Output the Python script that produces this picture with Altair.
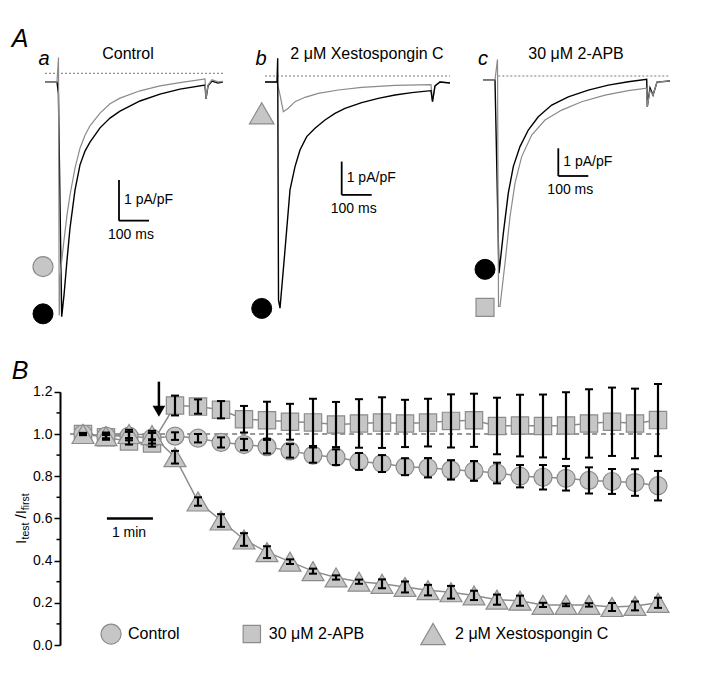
import altair as alt
import pandas as pd

FONT = "Liberation Sans"
VX, VY = 60, 8          # page position of the view origin
W, H = 650, 664

# ---------------- Panel B data (normalised current vs time) ----------------
time_min = [0.0, 0.5, 1.0, 1.5, 2.0, 2.5, 3.0, 3.5, 4.0, 4.5, 5.0, 5.5, 6.0,
            6.5, 7.0, 7.5, 8.0, 8.5, 9.0, 9.5, 10.0, 10.5, 11.0, 11.5, 12.0, 12.5]
series_names = ["Control", "30 μM 2-APB", "2 μM Xestospongin C"]
control_mean = [1.00, 0.99, 0.99, 0.98, 0.99, 0.98, 0.96, 0.95, 0.94, 0.92, 0.90, 0.89, 0.87,
                0.86, 0.845, 0.84, 0.83, 0.825, 0.815, 0.80, 0.795, 0.79, 0.78, 0.775, 0.77, 0.755]
control_sem = [0.005, 0.017, 0.02, 0.025, 0.018, 0.02, 0.024, 0.027, 0.032, 0.032, 0.036, 0.037, 0.04,
               0.04, 0.04, 0.046, 0.046, 0.047, 0.049, 0.053, 0.058, 0.058, 0.062, 0.059, 0.063, 0.07]
apb_mean = [1.00, 0.985, 0.965, 0.955, 1.135, 1.13, 1.115, 1.07, 1.065, 1.058, 1.055, 1.045, 1.05,
            1.054, 1.05, 1.054, 1.062, 1.065, 1.038, 1.04, 1.038, 1.04, 1.05, 1.058, 1.05, 1.066]
apb_sem = [0.005, 0.01, 0.015, 0.015, 0.047, 0.034, 0.041, 0.063, 0.088, 0.085, 0.112, 0.107, 0.115,
           0.12, 0.112, 0.113, 0.126, 0.126, 0.134, 0.146, 0.149, 0.158, 0.162, 0.162, 0.165, 0.171]
xesto_mean = [1.00, 0.99, 1.00, 0.995, 0.89, 0.68, 0.59, 0.50, 0.44, 0.395, 0.35, 0.32, 0.30,
              0.29, 0.275, 0.26, 0.25, 0.235, 0.215, 0.21, 0.19, 0.19, 0.19, 0.18, 0.185, 0.2]
xesto_sem = [0.005, 0.01, 0.02, 0.02, 0.03, 0.02, 0.03, 0.03, 0.028, 0.011, 0.012, 0.01, 0.01,
             0.021, 0.026, 0.025, 0.03, 0.022, 0.024, 0.024, 0.01, 0.006, 0.008, 0.019, 0.021, 0.024]
y_major = [0.0, 0.2, 0.4, 0.6, 0.8, 1.0, 1.2]
y_minor = [0.1, 0.3, 0.5, 0.7, 0.9, 1.1]

# ---------------- Panel A traces (time in ms, current in pA/pF) ----------------
a_black_t = [-46.7, -6.7, -2.0, 9.0, 16.7, 26.7, 36.7, 53.3, 70.0, 86.7, 103.3, 136.7, 170.0,
             203.3, 270.0, 336.7, 403.3, 486.7, 490.0, 496.7, 510.0, 530.0, 546.7]
a_black_i = [-0.21, -0.21, -0.5, -5.98, -5.45, -4.59, -3.80, -2.87, -2.25, -1.91, -1.69, -1.34, -1.10,
             -0.93, -0.68, -0.51, -0.39, -0.29, -0.63, -0.31, -0.19, -0.24, -0.21]
a_gray_t = [-46.7, -6.7, -1.7, 0.7, 4.0, 6.7, 16.7, 26.7, 36.7, 53.3, 70.0, 86.7, 103.3, 136.7,
            170.0, 203.3, 270.0, 336.7, 403.3, 486.7, 490.0, 496.7, 510.0, 530.0, 546.7]
a_gray_i = [-0.21, -0.21, 0.39, -5.95, -5.0, -4.76, -4.10, -3.48, -2.99, -2.33, -1.84, -1.52, -1.29,
            -0.98, -0.75, -0.61, -0.43, -0.31, -0.23, -0.14, -0.63, -0.29, -0.16, -0.21, -0.20]

b_black_t = [-44.3, -4.3, -2.0, 0.7, 5.7, 22.3, 39.0, 55.7, 72.3, 94.7, 122.3, 155.7, 189.0,
             222.3, 278.0, 333.3, 389.0, 444.7, 509.0, 514.0, 522.3, 539.0, 572.3]
b_black_i = [-0.18, -0.18, 0.53, -6.73, -6.97, -5.23, -3.42, -2.72, -2.22, -1.82, -1.57, -1.32, -1.12,
             -0.97, -0.80, -0.67, -0.57, -0.50, -0.44, -0.77, -0.30, -0.18, -0.21]
b_gray_t = [-44.3, -4.3, 5.7, 16.7, 33.3, 55.7, 89.0, 133.3, 200.0, 278.0, 389.0, 509.0, 514.0,
            522.3, 539.0, 572.3]
b_gray_i = [-0.18, -0.18, -0.57, -1.07, -0.97, -0.77, -0.64, -0.52, -0.42, -0.34, -0.28, -0.26, -0.77,
            -0.30, -0.18, -0.21]

c_black_t = [-51.0, -11.0, 2.3, 16.7, 33.3, 50.0, 72.3, 100.0, 133.3, 178.0, 233.3, 300.0, 366.7,
             433.3, 494.7, 496.7, 505.7, 515.7, 529.0, 572.3]
c_black_i = [-0.14, -0.14, -7.12, -5.68, -4.23, -3.27, -2.55, -1.95, -1.47, -1.05, -0.75, -0.51, -0.33,
             -0.21, -0.12, -1.11, -0.43, -0.69, -0.22, -0.18]
c_gray_t = [-51.0, -11.0, -2.7, 0.7, 5.7, 22.3, 39.0, 55.7, 78.0, 111.3, 155.7, 211.3, 278.0, 355.7,
            433.3, 494.7, 496.7, 505.7, 515.7, 529.0, 572.3]
c_gray_i = [-0.14, -0.14, 0.60, -8.32, -8.32, -6.76, -5.08, -3.87, -2.91, -2.13, -1.59, -1.23, -0.93,
            -0.69, -0.53, -0.44, -1.11, -0.51, -0.69, -0.22, -0.18]

panel_letters = ["a", "b", "c"]
panel_titles = ["Control", "2 μM Xestospongin C", "30 μM 2-APB"]

GRAY_FILL = "#c6c6c6"
GRAY_LINE = "#8c8c8c"


def xsc(lo, hi, px0, ppu):
    return alt.Scale(domain=[lo, hi], range=[px0 - VX + lo * ppu, px0 - VX + hi * ppu],
                     nice=False, zero=False)


def ysc(lo, hi, px0, ppu):
    return alt.Scale(domain=[lo, hi], range=[px0 - VY - lo * ppu, px0 - VY - hi * ppu],
                     nice=False, zero=False)


def txt(s, x, y, size, style="normal", angle=0, align="center", baseline="alphabetic"):
    mk = dict(text=s, fontSize=size, align=align, baseline=baseline, font=FONT, color="black")
    if style != "normal":
        mk["fontStyle"] = style
    if angle:
        mk["angle"] = angle
    return alt.Chart(pd.DataFrame({"d": [0]})).mark_text(**mk).encode(
        x=alt.value(x - VX), y=alt.value(y - VY))


# ---------------- Panel B ----------------
rows = []
for name, m, s in zip(series_names, [control_mean, apb_mean, xesto_mean],
                      [control_sem, apb_sem, xesto_sem]):
    for t, mv, sv in zip(time_min, m, s):
        rows.append(dict(series=name, t=t, v=mv, lo=mv - sv, hi=mv + sv))
dfB = pd.DataFrame(rows)

sxB = xsc(0, 12.5, 83, 46)
syB = ysc(0, 1.2, 645, 211)
axB = alt.Axis(values=y_major, format=".1f", title=None, grid=False, orient="left",
               labelFont=FONT, labelFontSize=14, labelColor="black", labelPadding=2,
               tickSize=6, tickWidth=1.5, tickColor="black", domainColor="black", domainWidth=2)
XB = lambda f: alt.X(f + ":Q", scale=sxB, axis=None)
YB = lambda f: alt.Y(f + ":Q", scale=syB, axis=axB)

baseB = alt.Chart(dfB)
dash = alt.Chart(pd.DataFrame({"t": [-0.28, 12.6], "v": [1.0, 1.0]})).mark_line(
    strokeDash=[5, 4], color="#333333", strokeWidth=1.2).encode(x=XB("t"), y=YB("v"))
lines = baseB.mark_line(color=GRAY_LINE, strokeWidth=1.5).encode(
    x=XB("t"), y=YB("v"), detail="series:N")
shape_spec = {"30 μM 2-APB": ("square", 300), "Control": ("circle", 324),
              "2 μM Xestospongin C": ("triangle-up", 480)}
pts = []
for name in ["30 μM 2-APB", "Control", "2 μM Xestospongin C"]:
    shp, sz = shape_spec[name]
    pts.append(alt.Chart(dfB[dfB.series == name]).mark_point(
        shape=shp, size=sz, filled=True, fill=GRAY_FILL, stroke=GRAY_LINE, strokeWidth=1.2,
        opacity=1).encode(x=XB("t"), y=YB("v")))
err = baseB.mark_rule(color="black", strokeWidth=2.2).encode(x=XB("t"), y=YB("lo"), y2="hi:Q")
cap_lo = baseB.mark_tick(orient="horizontal", size=8, thickness=2, color="black", opacity=1).encode(
    x=XB("t"), y=YB("lo"))
cap_hi = baseB.mark_tick(orient="horizontal", size=8, thickness=2, color="black", opacity=1).encode(
    x=XB("t"), y=YB("hi"))
minor = alt.Chart(pd.DataFrame({"m": y_minor})).mark_rule(color="black", strokeWidth=1.5).encode(
    x=alt.value(-3.5), x2=alt.value(0), y=YB("m"))

arrow_shaft = alt.Chart(pd.DataFrame({"t": [1.65], "v1": [1.248], "v2": [1.125]})).mark_rule(
    color="black", strokeWidth=2.5).encode(x=XB("t"), y=YB("v1"), y2="v2:Q")
arrow_head = alt.Chart(pd.DataFrame({"t": [1.65], "v": [1.108]})).mark_point(
    shape="triangle-down", size=160, filled=True, color="black", opacity=1).encode(x=XB("t"), y=YB("v"))
min_bar = alt.Chart(pd.DataFrame({"t1": [0.52], "t2": [1.52], "v": [0.60]})).mark_rule(
    color="black", strokeWidth=2.5).encode(x=XB("t1"), x2="t2:Q", y=YB("v"))
min_txt = alt.Chart(pd.DataFrame({"t": [1.0], "v": [0.53]})).mark_text(
    text="1 min", fontSize=14, font=FONT, color="black", baseline="middle").encode(x=XB("t"), y=YB("v"))

leg_t = [0.61, 3.67, 7.61]
leg_v = 0.052
leg_layers = []
for name, lt in zip(series_names, leg_t):
    shp, sz = shape_spec[name]
    if shp == "circle":
        sz = 400
    if shp == "triangle-up":
        sz = 600
    leg_layers.append(alt.Chart(pd.DataFrame({"t": [lt], "v": [leg_v]})).mark_point(
        shape=shp, size=sz, filled=True, fill=GRAY_FILL, stroke=GRAY_LINE, strokeWidth=1.2,
        opacity=1).encode(x=XB("t"), y=YB("v")))
    leg_layers.append(alt.Chart(pd.DataFrame({"t": [lt], "v": [leg_v]})).mark_text(
        text=name, fontSize=16, font=FONT, color="black", align="left", baseline="middle",
        dx=17 if shp != "triangle-up" else 22).encode(x=XB("t"), y=YB("v")))

groupB = alt.layer(dash, lines, *pts, err, cap_lo, cap_hi, minor, arrow_shaft, arrow_head,
                   min_bar, min_txt, *leg_layers)


# ---------------- Panel A ----------------
def trace_group(bt, bi, gt, gi, zt, xs, ys, bar_t, bar_i, markers, black_last):
    X = lambda f: alt.X(f + ":Q", scale=xs, axis=None)
    Y = lambda f: alt.Y(f + ":Q", scale=ys, axis=None)
    zero = alt.Chart(pd.DataFrame({"t": zt, "i": [0.0, 0.0]})).mark_line(
        strokeDash=[2, 2], color="#555555", strokeWidth=0.8).encode(x=X("t"), y=Y("i"))
    black = alt.Chart(pd.DataFrame({"t": bt, "i": bi, "k": list(range(len(bt)))})).mark_line(
        color="black", strokeWidth=1.4).encode(x=X("t"), y=Y("i"), order="k:Q")
    gray = alt.Chart(pd.DataFrame({"t": gt, "i": gi, "k": list(range(len(gt)))})).mark_line(
        color="#8a8a8a", strokeWidth=1.2).encode(x=X("t"), y=Y("i"), order="k:Q")
    bars = alt.Chart(pd.DataFrame({"t1": [bar_t, bar_t], "i1": [bar_i, bar_i - 1.0],
                                   "t2": [bar_t, bar_t + 100.0], "i2": [bar_i - 1.0, bar_i - 1.0]})
                     ).mark_rule(color="black", strokeWidth=1.8).encode(
        x=X("t1"), y=Y("i1"), x2="t2:Q", y2="i2:Q")
    lab1 = alt.Chart(pd.DataFrame({"t": [bar_t], "i": [bar_i - 0.5]})).mark_text(
        text="1 pA/pF", fontSize=14, font=FONT, color="black", align="left", baseline="middle",
        dx=5).encode(x=X("t"), y=Y("i"))
    lab2 = alt.Chart(pd.DataFrame({"t": [bar_t + 50.0], "i": [bar_i - 1.0]})).mark_text(
        text="100 ms", fontSize=14, font=FONT, color="black", align="center", baseline="middle",
        dx=-3, dy=14).encode(x=X("t"), y=Y("i"))
    mks = []
    for shp, col, sz, mt, mi in markers:
        if col == "black":
            mk = dict(shape=shp, size=sz, filled=True, fill="black", stroke="black", strokeWidth=1)
        else:
            mk = dict(shape=shp, size=sz, filled=True, fill=GRAY_FILL, stroke=GRAY_LINE, strokeWidth=1.2)
        mks.append(alt.Chart(pd.DataFrame({"t": [mt], "i": [mi]})).mark_point(opacity=1, **mk).encode(
            x=X("t"), y=Y("i")))
    traces = [gray, black] if black_last else [black, gray]
    return alt.layer(zero, *traces, bars, lab1, lab2, *mks)


grp_a = trace_group(a_black_t, a_black_i, a_gray_t, a_gray_i, [-46.7, 546.7],
                    xsc(-60, 580, 59, 0.3), ysc(-6.6, 0.7, 73.3, 40.7), 200.0, -2.62,
                    [("circle", "gray", 400, -53.3, -4.75), ("circle", "black", 400, -53.3, -5.91)],
                    black_last=False)
grp_b = trace_group(b_black_t, b_black_i, b_gray_t, b_gray_i, [-44.3, 572.3],
                    xsc(-60, 580, 278.3, 0.3), ysc(-7.6, 0.7, 76, 33.3), 211.3, -2.57,
                    [("triangle-up", "gray", 600, -55.3, -1.12), ("circle", "black", 400, -55.3, -6.98)],
                    black_last=True)
grp_c = trace_group(c_black_t, c_black_i, c_gray_t, c_gray_i, [0.0, 572.3],
                    xsc(-60, 580, 498.3, 0.3), ysc(-8.8, 0.8, 76, 27.7), 200.0, -2.61,
                    [("circle", "black", 400, -44.3, -6.98), ("square", "gray", 324, -44.3, -8.35)],
                    black_last=False)

# ---------------- Text annotations ----------------
texts = [
    txt("A", 20, 47, 25, style="italic"),
    txt("B", 20, 379, 25, style="italic"),
    txt(panel_letters[0], 44, 65, 20, style="italic"),
    txt(panel_letters[1], 261, 65, 20, style="italic"),
    txt(panel_letters[2], 483, 65, 20, style="italic"),
    txt(panel_titles[0], 128, 59, 16),
    txt(panel_titles[1], 367, 59, 16),
    txt(panel_titles[2], 576, 59, 16),
    # rotated axis title  I_test / I_first
    txt("I", 26, 544, 15, angle=270, align="left"),
    txt("test", 29, 539.5, 10.5, angle=270, align="left"),
    txt("/I", 26, 518.5, 15, angle=270, align="left"),
    txt("first", 29, 510.2, 10.5, angle=270, align="left"),
]

chart = alt.layer(groupB, grp_a, grp_b, grp_c, *texts).resolve_scale(
    x="independent", y="independent"
).properties(
    width=W, height=H,
    autosize=alt.AutoSizeParams(type="none"),
    padding={"left": VX - 8, "top": VY - 8, "right": 0, "bottom": 0},
    background="white",
).configure_view(stroke="transparent")

chart.save("out.html", embed_options={"renderer": "svg", "actions": False})
